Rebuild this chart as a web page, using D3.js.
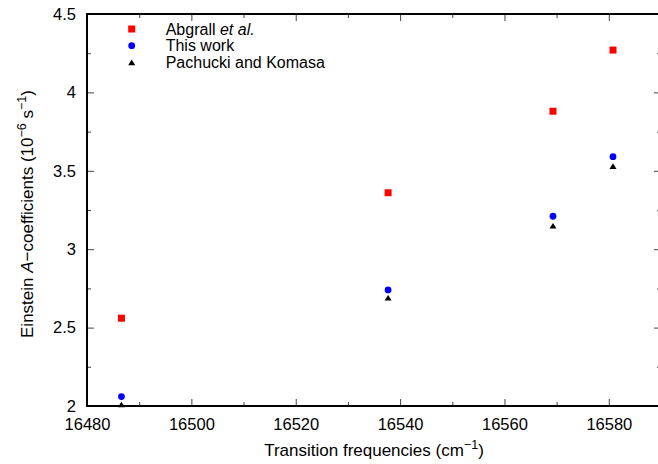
<!DOCTYPE html>
<html><head><meta charset="utf-8">
<script src="https://cdn.jsdelivr.net/npm/d3@7"></script>
<style>body{margin:0;background:#fff}svg{display:block}text{font-family:"Liberation Sans",Arial,sans-serif}</style>
</head><body>
<script>
const freqs = [16486.6, 16537.7, 16569.3, 16580.8];
const abgrall = [2.56, 3.36, 3.88, 4.27];
const thisWork = [2.06, 2.74, 3.21, 3.59];
const pachucki = [2.01, 2.69, 3.15, 3.53];
const xMajor = [16480, 16500, 16520, 16540, 16560, 16580];
const xMinor = [16490, 16510, 16530, 16550, 16570];
const yMajor = [2, 2.5, 3, 3.5, 4, 4.5];
const yMinor = [2.25, 2.75, 3.25, 3.75, 4.25];
const seriesNames = ["Abgrall", "This work", "Pachucki and Komasa"];

const W = 658, H = 464;
const L = 87, R = 661, T = 14, B = 406;
const svg = d3.select("body").append("svg").attr("width", W).attr("height", H);
const x = d3.scaleLinear().domain([16480, 16590]).range([L, R]);
const y = d3.scaleLinear().domain([2, 4.5]).range([B, T]);
const fs = 17, lfs = 16, tfs = 16.5, sfs = 12.5;

function styleAxis(g){
  g.select(".domain").remove();
  g.selectAll(".tick line").attr("stroke", "#444").attr("stroke-width", 1);
  g.selectAll("text").attr("font-size", tfs).attr("fill", "#000").attr("font-family", '"Liberation Sans",Arial,sans-serif');
}
// bottom
svg.append("g").attr("transform", `translate(0,${B})`)
  .call(d3.axisBottom(x).tickValues(xMajor).tickFormat(d3.format("d")).tickSizeInner(-7).tickSizeOuter(0).tickPadding(12))
  .call(styleAxis);
svg.append("g").attr("transform", `translate(0,${B})`)
  .call(d3.axisBottom(x).tickValues(xMinor).tickFormat("").tickSizeInner(-4).tickSizeOuter(0)).call(styleAxis);
// top
svg.append("g").attr("transform", `translate(0,${T})`)
  .call(d3.axisTop(x).tickValues(xMajor).tickFormat("").tickSizeInner(-7).tickSizeOuter(0)).call(styleAxis);
svg.append("g").attr("transform", `translate(0,${T})`)
  .call(d3.axisTop(x).tickValues(xMinor).tickFormat("").tickSizeInner(-4).tickSizeOuter(0)).call(styleAxis);
// left
svg.append("g").attr("transform", `translate(${L},0)`)
  .call(d3.axisLeft(y).tickValues(yMajor).tickFormat(d => d3.format("~g")(d)).tickSizeInner(-7).tickSizeOuter(0).tickPadding(11))
  .call(styleAxis);
svg.append("g").attr("transform", `translate(${L},0)`)
  .call(d3.axisLeft(y).tickValues(yMinor).tickFormat("").tickSizeInner(-4).tickSizeOuter(0)).call(styleAxis);
// right
svg.append("g").attr("transform", `translate(${R},0)`)
  .call(d3.axisRight(y).tickValues(yMajor).tickFormat("").tickSizeInner(-7).tickSizeOuter(0)).call(styleAxis);
svg.append("g").attr("transform", `translate(${R},0)`)
  .call(d3.axisRight(y).tickValues(yMinor).tickFormat("").tickSizeInner(-4).tickSizeOuter(0)).call(styleAxis);

// border
svg.append("rect").attr("x", L).attr("y", T).attr("width", R - L).attr("height", B - T)
  .attr("fill", "none").attr("stroke", "#000").attr("stroke-width", 2);

// markers
const sq = 7, cr = 3.4, tr = 7;
function square(g, cx, cy){ g.append("rect").attr("x", cx - sq/2).attr("y", cy - sq/2).attr("width", sq).attr("height", sq).attr("fill", "#ff0000"); }
function circle(g, cx, cy){ g.append("circle").attr("cx", cx).attr("cy", cy).attr("r", cr).attr("fill", "#0000ff"); }
function tri(g, cx, cy){
  const h = tr * 0.8;
  g.append("path").attr("d", `M${cx},${cy - h/2}L${cx + tr/2},${cy + h/2}L${cx - tr/2},${cy + h/2}Z`).attr("fill", "#000");
}
const pts = svg.append("g");
freqs.forEach((f, i) => {
  square(pts, x(f), y(abgrall[i]));
  circle(pts, x(f), y(thisWork[i]));
  tri(pts, x(f), y(pachucki[i]));
});

// legend
const lg = svg.append("g");
const lx = 131.7, tx = 165.7, rows = [29, 45.7, 62.4];
square(lg, lx, rows[0]); circle(lg, lx, rows[1]); tri(lg, lx, rows[2]);
const t0 = lg.append("text").attr("x", tx).attr("y", rows[0] + 5.6).attr("font-size", lfs);
t0.append("tspan").text(seriesNames[0] + " ");
t0.append("tspan").attr("font-style", "italic").text("et al.");
lg.append("text").attr("x", tx).attr("y", rows[1] + 5.6).attr("font-size", lfs).text(seriesNames[1]);
lg.append("text").attr("x", tx).attr("y", rows[2] + 5.6).attr("font-size", lfs).text(seriesNames[2]);

// x title
const xt = svg.append("text").attr("x", (L + R) / 2).attr("y", 456).attr("text-anchor", "middle").attr("font-size", fs);
xt.append("tspan").text("Transition frequencies (cm");
xt.append("tspan").attr("dy", -7).attr("font-size", sfs).text("−1");
xt.append("tspan").attr("dy", 7).text(")");

// y title
const yt = svg.append("text").attr("transform", `translate(33,${(T + B) / 2 + 4}) rotate(-90)`).attr("text-anchor", "middle").attr("font-size", fs);
yt.append("tspan").text("Einstein ");
yt.append("tspan").attr("font-style", "italic").text("A");
yt.append("tspan").text("−coefficients (10");
yt.append("tspan").attr("dy", -7).attr("font-size", sfs).text("−6");
yt.append("tspan").attr("dy", 7).text(" s");
yt.append("tspan").attr("dy", -7).attr("font-size", sfs).text("−1");
yt.append("tspan").attr("dy", 7).text(")");
</script>
</body></html>
